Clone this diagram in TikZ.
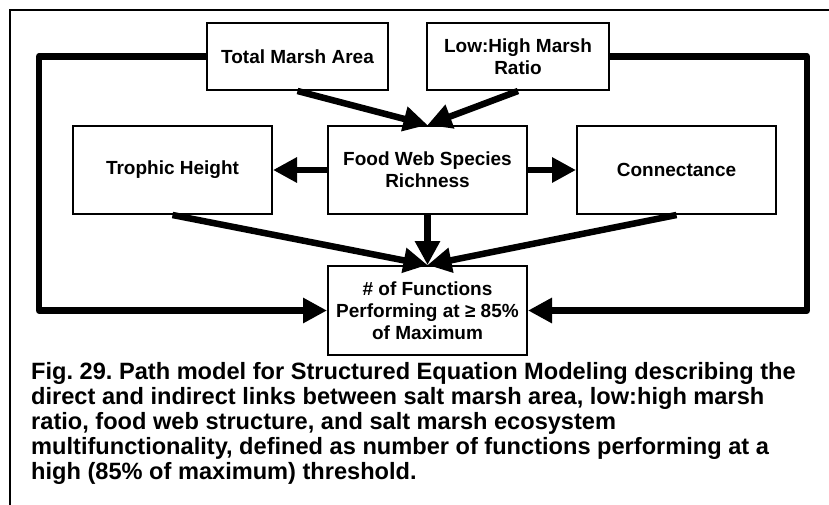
\documentclass[tikz,border=0pt]{standalone}
\usepackage{fontspec}
\setmainfont{Liberation Sans}
\usetikzlibrary{arrows.meta}
\begin{document}
\frenchspacing
\begin{tikzpicture}[x=1pt,y=-1pt,
  var/.style={draw=black, line width=2pt, fill=white, align=center,
    inner sep=2pt, font=\bfseries\fontsize{19}{22}\selectfont},
  conn/.style={line width=6.5pt, line join=round,
    -{Triangle[length=24pt,width=24pt]}},
  caption/.style={anchor=north west, inner sep=0pt, align=left,
    font=\bfseries\fontsize{23.6}{25}\selectfont}]
  \useasboundingbox (0,0) rectangle (829,504);
  % outer frame
  \draw[line width=1.5pt] (10,10) rectangle (845,520);

  % variables
  \node[var, minimum width=181pt, minimum height=67pt] (tma) at (297.5,56.5) {Total Marsh Area};
  \node[var, minimum width=182pt, minimum height=67pt] (lhr) at (518,56.5) {Low:High Marsh\\Ratio};
  \node[var, minimum width=199pt, minimum height=88pt] (th) at (172.5,170) {Trophic Height};
  \node[var, minimum width=199pt, minimum height=88pt] (fw) at (427.5,170) {Food Web Species\\Richness};
  \node[var, minimum width=199pt, minimum height=88pt] (cn) at (676.5,170) {Connectance};
  \node[var, minimum width=199pt, minimum height=89pt] (fn) at (427.5,310.5) {\# of Functions\\Performing at ≥ 85\%\\of Maximum};

  % bends of the two outer paths
  \coordinate (lt) at (39,56.5);
  \coordinate (rt) at (807,56.5);

  % paths
  \draw[conn] (tma.south) -- (fw.north);
  \draw[conn] (lhr.south) -- (fw.north);
  \draw[conn] (fw.west) -- (th.east);
  \draw[conn] (fw.east) -- (cn.west);
  \draw[conn] (th.south) -- (fn.north);
  \draw[conn] (fw.south) -- (fn.north);
  \draw[conn] (cn.south) -- (fn.north);
  \draw[conn] (tma.west) -- (lt) |- (fn.west);
  \draw[conn] (lhr.east) -- (rt) |- (fn.east);

  % caption
  \node[caption] (cap) at (31,362) {Fig. 29. Path model for Structured Equation Modeling describing the\\
    direct and indirect links between salt marsh area, low:high marsh\\
    ratio, food web structure, and salt marsh ecosystem\\
    multifunctionality, defined as number of functions performing at a\\
    high (85\% of maximum) threshold.};
\end{tikzpicture}
\end{document}
